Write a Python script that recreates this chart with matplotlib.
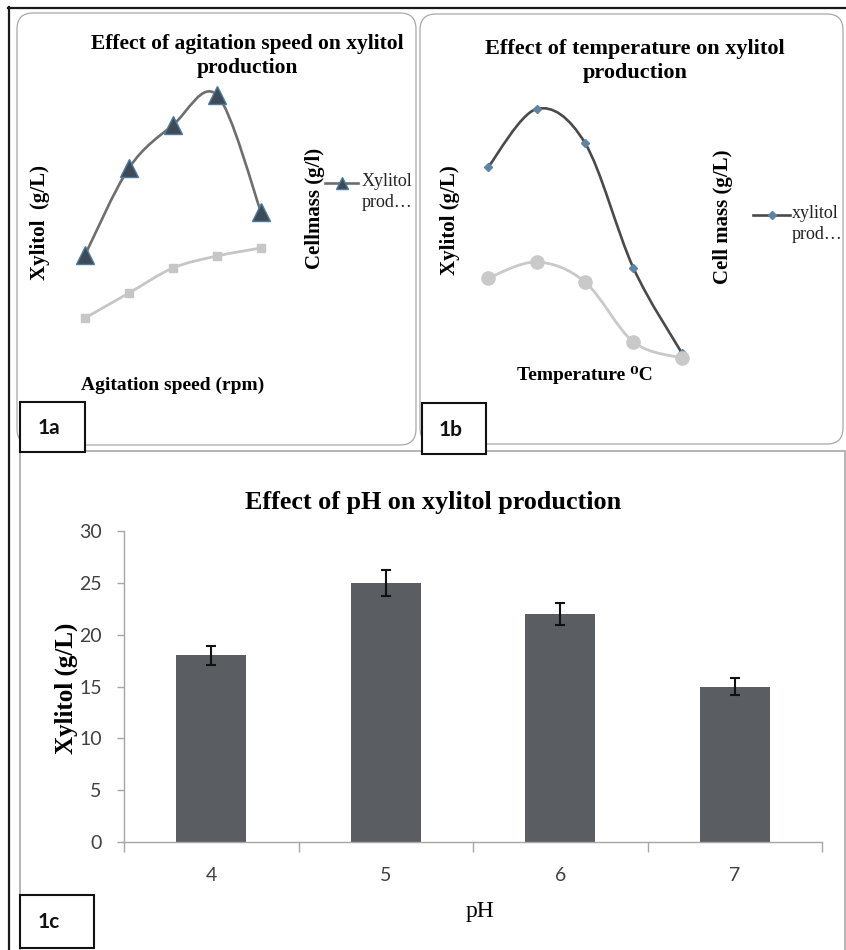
import numpy as np
import matplotlib
matplotlib.use("Agg")
import matplotlib.pyplot as plt
from matplotlib.path import Path
from matplotlib.patches import PathPatch, FancyBboxPatch, Rectangle
from matplotlib.lines import Line2D
from matplotlib.transforms import Affine2D

# data
agit_pos = [0, 1, 2, 3, 4]
agit_xylitol = [12.5, 21.2, 25.5, 28.5, 16.8]
agit_cellmass = [1.24, 1.74, 2.24, 2.48, 2.64]

temp_pos = [0, 1, 2, 3, 4]
temp_xylitol = [21.3, 27.1, 23.7, 11.2, 2.7]
temp_cellmass = [2.04, 2.36, 1.96, 0.76, 0.44]

ph_labels = ['4', '5', '6', '7']
ph_xylitol = [18.0, 25.0, 22.0, 15.0]
ph_err = [0.9, 1.25, 1.1, 0.8]

W, H = 846, 950
SERIF = 'Liberation Serif'
SANS = 'Lato'

fig = plt.figure(figsize=(W / 100, H / 100), dpi=100)
# pixel coordinates, origin top-left
PX = Affine2D().scale(1 / W, -1 / H).translate(0, 1) + fig.transFigure


def px_axes(left, top, right, bottom):
    return fig.add_axes([left / W, 1 - bottom / H, (right - left) / W, (bottom - top) / H])


def smooth_line(ax, xs, ys, **kw):
    # Excel-like smoothed line (Catmull-Rom as cubic Bezier)
    pts = np.column_stack([xs, ys]).astype(float)
    ext = np.vstack([pts[0], pts, pts[-1]])
    verts, codes = [pts[0]], [Path.MOVETO]
    for i in range(len(pts) - 1):
        p0, p1, p2, p3 = ext[i], ext[i + 1], ext[i + 2], ext[i + 3]
        verts += [p1 + (p2 - p0) / 6, p2 - (p3 - p1) / 6, p2]
        codes += [Path.CURVE4] * 3
    ax.add_patch(PathPatch(Path(verts, codes), fill=False, **kw))


def bare(ax):
    for s in ax.spines.values():
        s.set_visible(False)
    ax.set_xticks([])
    ax.set_yticks([])
    ax.patch.set_alpha(0)


# frames
fig.add_artist(Line2D([8, W], [7.5, 7.5], color='#1a1a1a', lw=1.6, transform=PX))
fig.add_artist(Line2D([8.5, 8.5], [7, H], color='#1a1a1a', lw=1.6, transform=PX))
for x0, y0, x1, y1 in [(17, 13, 416, 445), (420, 14, 843, 444)]:
    fig.add_artist(FancyBboxPatch((x0, y0), x1 - x0, y1 - y0, boxstyle='round,pad=0,rounding_size=16',
                                  fc='none', ec='#a8a8a8', lw=0.9, transform=PX))
fig.add_artist(Rectangle((20, 451), 825, 510, fc='none', ec='#a8a8a8', lw=1.2, transform=PX))

# ---- panel a ----
ax = px_axes(63, 80, 283, 380)
ax2 = ax.twinx()
for a in (ax, ax2):
    bare(a)
    a.set_xlim(-0.5, 4.5)
ax.set_ylim(0, 30)
ax2.set_ylim(0, 6)
smooth_line(ax, agit_pos, agit_xylitol, ec='#6e6e6e', lw=1.9, zorder=2)
ax.plot(agit_pos, agit_xylitol, ls='none', marker='^', ms=13, mfc='#3f4a57', mec='#4d7aa0', mew=1, zorder=3)
smooth_line(ax2, agit_pos, agit_cellmass, ec='#c6c6c6', lw=2.0, zorder=2)
ax2.plot(agit_pos, agit_cellmass, ls='none', marker='s', ms=6, mfc='#c6c6c6', mec='#c6c6c6', zorder=3)
ax.set_ylabel('Xylitol  (g/L)', fontfamily=SERIF, fontweight='bold', fontsize=15)
ax.yaxis.set_label_coords((50 - 63) / 220, (380 - 222) / 300)
ax2.set_ylabel('Cellmass (g/l)', fontfamily=SERIF, fontweight='bold', fontsize=15, rotation=90)
ax2.yaxis.set_label_coords((305 - 63) / 220, (380 - 208) / 300)
ax.set_xlabel('Agitation speed (rpm)', fontfamily=SERIF, fontweight='bold', fontsize=14, va='center')
ax.xaxis.set_label_coords((173 - 63) / 220, (380 - 385) / 300)
fig.text(247 / W, 1 - 56 / H, 'Effect of agitation speed on xylitol\nproduction', ha='center', va='center',
         fontfamily=SERIF, fontweight='bold', fontsize=15.5, linespacing=1.32)
fig.add_artist(Line2D([325, 341.5, 358], [183, 183, 183], color='#6e6e6e', lw=1.9, marker='^', ms=8,
                      markevery=[1], mfc='#3f4a57', mec='#4d7aa0', transform=PX))
fig.text(362 / W, 1 - 173 / H, 'Xylitol\nprod…', ha='left', va='top', fontfamily=SERIF, fontsize=13,
         linespacing=1.3, color='#222222')

# ---- panel b ----
bx = px_axes(464, 80, 706, 380)
bx2 = bx.twinx()
for a in (bx, bx2):
    bare(a)
    a.set_xlim(-0.5, 4.5)
bx.set_ylim(0, 30)
bx2.set_ylim(0, 6)
smooth_line(bx, temp_pos, temp_xylitol, ec='#4a4a4a', lw=1.9, zorder=2)
bx.plot(temp_pos, temp_xylitol, ls='none', marker='D', ms=4.5, mfc='#5f83a3', mec='#5f83a3', zorder=3)
smooth_line(bx2, temp_pos, temp_cellmass, ec='#c9c9c9', lw=2.0, zorder=4)
bx2.plot(temp_pos, temp_cellmass, ls='none', marker='o', ms=9.5, mfc='#c9c9c9', mec='#c9c9c9', zorder=5)
bx.set_ylabel('Xylitol (g/L)', fontfamily=SERIF, fontweight='bold', fontsize=15)
bx.yaxis.set_label_coords((460 - 464) / 242, (380 - 220) / 300)
bx2.set_ylabel('Cell mass (g/L)', fontfamily=SERIF, fontweight='bold', fontsize=15, rotation=90)
bx2.yaxis.set_label_coords((713 - 464) / 242, (380 - 217) / 300)
bx.set_xlabel('Temperature \u2070C', fontfamily=[SERIF, 'DejaVu Serif'], fontweight='bold', fontsize=14,
              va='center')
bx.xaxis.set_label_coords((585 - 464) / 242, (380 - 375) / 300)
fig.text(635 / W, 1 - 61 / H, 'Effect of temperature on xylitol\nproduction', ha='center', va='center',
         fontfamily=SERIF, fontweight='bold', fontsize=16, linespacing=1.28)
fig.add_artist(Line2D([753, 771.5, 790], [215, 215, 215], color='#4a4a4a', lw=1.9, marker='D', ms=4,
                      markevery=[1], mfc='#5f83a3', mec='#5f83a3', transform=PX))
fig.text(792 / W, 1 - 205 / H, 'xylitol\nprod…', ha='left', va='top', fontfamily=SERIF, fontsize=13,
         linespacing=1.3, color='#222222')

# ---- panel c ----
cx = px_axes(124, 531, 822, 842)
x = np.arange(len(ph_labels))
cx.bar(x, ph_xylitol, width=0.4, color='#5a5e62', zorder=2)
cx.errorbar(x, ph_xylitol, yerr=ph_err, fmt='none', ecolor='#111111', elinewidth=1.5, capsize=3.5,
            capthick=1.5, zorder=3)
cx.set_xlim(-0.5, 3.5)
cx.set_ylim(0, 30)
cx.set_yticks(range(0, 31, 5))
cx.set_xticks(np.arange(-0.5, 3.6, 1))
cx.set_xticklabels([])
cx.set_xticks(x, minor=True)
cx.set_xticklabels(ph_labels, minor=True)
for s in ('top', 'right'):
    cx.spines[s].set_visible(False)
for s in ('left', 'bottom'):
    cx.spines[s].set_color('#a6a6a6')
    cx.spines[s].set_linewidth(1.0)
cx.tick_params(axis='both', which='major', color='#a6a6a6', length=5, width=1.0,
               labelsize=14, labelcolor='#404040')
cx.tick_params(axis='y', which='major', pad=11)
cx.tick_params(axis='x', which='major', length=7)
cx.tick_params(axis='x', which='minor', length=0, pad=18, labelsize=14, labelcolor='#404040')
for t in cx.get_yticklabels() + cx.get_xticklabels(minor=True):
    t.set_fontfamily(SANS)
cx.set_ylabel('Xylitol (g/L)', fontfamily=SERIF, fontweight='bold', fontsize=18)
cx.yaxis.set_label_coords((78 - 124) / 698, (842 - 688) / 311)
cx.set_xlabel('pH', fontfamily=SERIF, fontsize=17, va='center')
cx.xaxis.set_label_coords((480 - 124) / 698, (842 - 912) / 311)
fig.text(433 / W, 1 - 502 / H, 'Effect of pH on xylitol production', ha='center', va='center',
         fontfamily=SERIF, fontweight='bold', fontsize=18.8)

# panel tags
for (x0, y0, x1, y1), tag in [((20, 402, 85, 452), '1a'), ((422, 403, 486, 454), '1b'),
                              ((20, 895, 94, 948), '1c')]:
    fig.add_artist(Rectangle((x0, y0), x1 - x0, y1 - y0, fc='white', ec='#111111', lw=1.5,
                             transform=PX, zorder=5))
    fig.text((x0 + 29) / W, 1 - (y0 + y1 + 2) / 2 / H, tag, ha='center', va='center', fontfamily=SANS,
             fontweight='bold', fontsize=15, color='#111111', zorder=6)

fig.savefig('out.png', dpi=100)
